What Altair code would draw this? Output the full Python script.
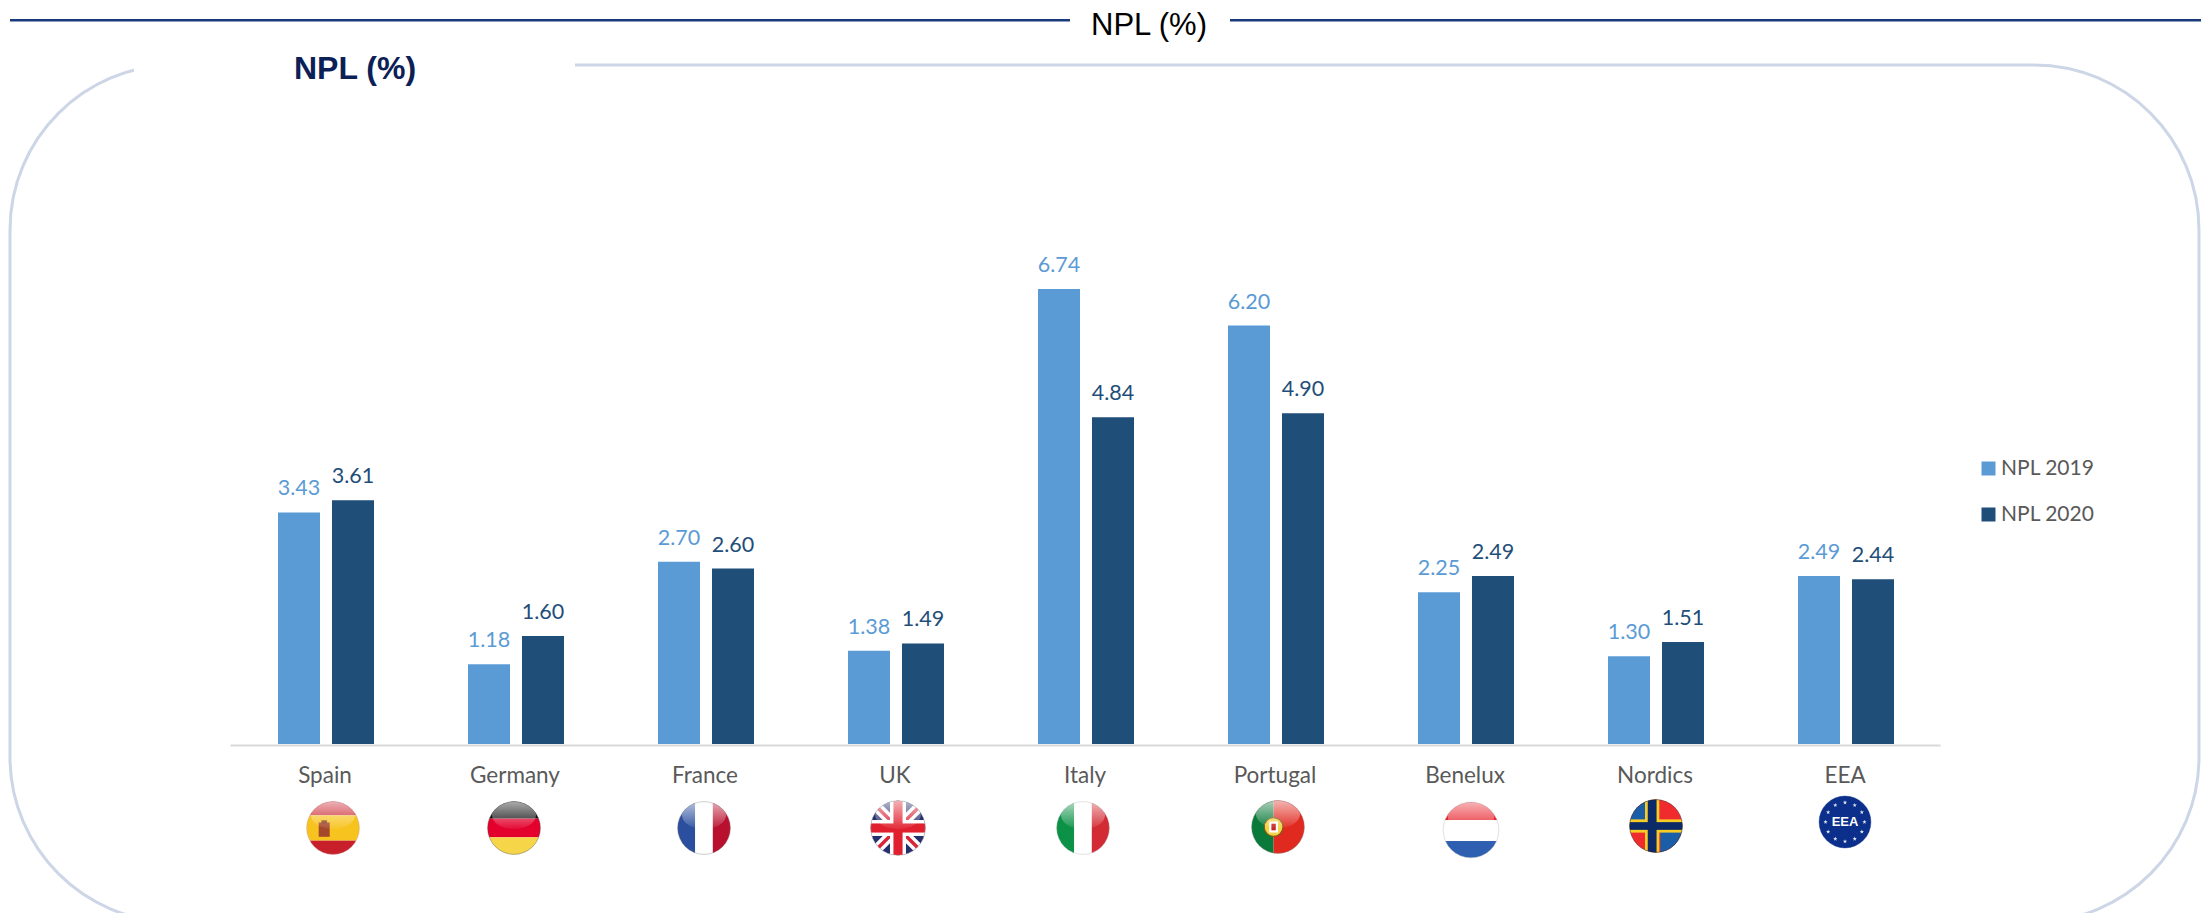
import math
from urllib.parse import quote
import altair as alt

categories = ["Spain", "Germany", "France", "UK", "Italy", "Portugal", "Benelux", "Nordics", "EEA"]
npl_2019 = [3.43, 1.18, 2.70, 1.38, 6.74, 6.20, 2.25, 1.30, 2.49]
npl_2020 = [3.61, 1.60, 2.60, 1.49, 4.84, 4.90, 2.49, 1.51, 2.44]
series = ["NPL 2019", "NPL 2020"]
colors = ["#5B9BD5", "#1F4E79"]
FONT = "Lato"
GREY = "#595959"

rows = [{"cat": c, "series": s, "value": v}
        for s, vals in zip(series, (npl_2019, npl_2020))
        for c, v in zip(categories, vals)]


def flag(body, gloss=True, rim="#555555"):
    g = ('<defs><clipPath id="c"><circle cx="50" cy="50" r="48"/></clipPath>'
         '<linearGradient id="g" x1="0" y1="0" x2="0" y2="1">'
         '<stop offset="0" stop-color="#fff" stop-opacity=".65"/>'
         '<stop offset="1" stop-color="#fff" stop-opacity=".05"/></linearGradient></defs>')
    shine = '<ellipse cx="50" cy="27" rx="40" ry="25" fill="url(#g)"/>' if gloss else ""
    s = (f'<svg xmlns="http://www.w3.org/2000/svg" width="100" height="100" viewBox="0 0 100 100">{g}'
         f'<g clip-path="url(#c)">{body}{shine}</g>'
         f'<circle cx="50" cy="50" r="48" fill="none" stroke="{rim}" stroke-opacity=".5" stroke-width="1.5"/></svg>')
    return "data:image/svg+xml," + quote(s)


def r(x, y, w, h, c):
    return f'<rect x="{x}" y="{y}" width="{w}" height="{h}" fill="{c}"/>'


stars = ""
for i in range(12):
    a = math.radians(30 * i)
    cx, cy = 50 + 36 * math.cos(a), 50 + 36 * math.sin(a)
    pts = " ".join(
        f"{cx + (4.2 if k % 2 == 0 else 1.7) * math.sin(math.radians(36 * k)):.1f},"
        f"{cy - (4.2 if k % 2 == 0 else 1.7) * math.cos(math.radians(36 * k)):.1f}"
        for k in range(10))
    stars += f'<polygon points="{pts}" fill="#dfe6f5"/>'

flags = {
    "Spain": (flag(r(0, 0, 100, 27, "#c8202a") + r(0, 27, 100, 46, "#f7c31e") + r(0, 73, 100, 27, "#c8202a")
                   + r(24, 40, 20, 26, "#a5472a") + r(29, 36, 10, 6, "#8a3d20"), rim="#cc9999"), 55, 8, 0),
    "Germany": (flag(r(0, 0, 100, 33, "#111111") + r(0, 33, 100, 34, "#e3002d") + r(0, 67, 100, 33, "#f6d648")), 55, -1, 0),
    "France": (flag(r(0, 0, 34, 100, "#2b4f9e") + r(34, 0, 32, 100, "#ffffff") + r(66, 0, 34, 100, "#b8102e"), rim="#888888"), 55, -1, 0),
    "UK": (flag(r(0, 0, 100, 100, "#27306e")
                + '<path d="M0 0L100 100M100 0L0 100" stroke="#fff" stroke-width="18"/>'
                + '<path d="M0 0L100 100M100 0L0 100" stroke="#d9243a" stroke-width="6"/>'
                + r(36, 0, 28, 100, "#fff") + r(0, 36, 100, 28, "#fff")
                + r(42, 0, 16, 100, "#e1202f") + r(0, 42, 100, 16, "#e1202f"), rim="#aaaaaa"), 57, 3, 0),
    "Italy": (flag(r(0, 0, 34, 100, "#0c9246") + r(34, 0, 32, 100, "#ffffff") + r(66, 0, 34, 100, "#d32b34"), rim="#bbbbbb"), 55, -2, 0),
    "Portugal": (flag(r(0, 0, 42, 100, "#0a7a3a") + r(42, 0, 58, 100, "#e02a20")
                      + '<circle cx="42" cy="50" r="17" fill="#f2d34a" stroke="#7a5a10" stroke-width="2"/>'
                      + r(34, 40, 16, 20, "#fff") + r(38, 44, 8, 12, "#c5281f"), rim="#888888"), 55, 3, -1),
    "Benelux": (flag(r(0, 0, 100, 33, "#e8242d") + r(0, 33, 100, 36, "#ffffff") + r(0, 69, 100, 31, "#2f5fb0"), rim="#bbbbbb"), 58, 6, 2),
    "Nordics": (flag(r(0, 0, 100, 100, "#ef2b2d") + r(0, 0, 42, 45, "#1b5ea8") + r(58, 55, 42, 45, "#1b5ea8")
                     + r(30, 0, 26, 100, "#f7cc27") + r(0, 38, 100, 24, "#f7cc27")
                     + r(35, 0, 16, 100, "#0b2a66") + r(0, 43, 100, 14, "#0b2a66"), gloss=False, rim="#222222"), 55, 1, -2),
    "EEA": (flag(r(0, 0, 100, 100, "#0b2f8a") + stars, gloss=False, rim="#0b2f8a"), 54, 0, -6),
}
FLAG_Y = 820

x_enc = alt.X("cat:N", sort=categories,
              scale=alt.Scale(domain=categories, range=[222, 1932], paddingInner=0, paddingOuter=0),
              axis=alt.Axis(title=None, labelAngle=0, labelFont=FONT, labelFontSize=22.5, labelColor=GREY,
                            labelPadding=19, ticks=False, grid=False, domainColor="#D9D9D9", domainWidth=2.2))
off_enc = alt.XOffset("series:N", sort=series,
                      scale=alt.Scale(domain=series, range=[48, 144], paddingInner=0.222, paddingOuter=0))
y_enc = alt.Y("value:Q", axis=None, scale=alt.Scale(domain=[0, 7], range=[736, 263.5]))
color_enc = alt.Color("series:N", sort=series,
                      scale=alt.Scale(domain=series, range=colors),
                      legend=alt.Legend(orient="none", legendX=1970, legendY=450, title=None,
                                        symbolType="square", symbolSize=196, symbolStrokeWidth=0,
                                        labelFont=FONT, labelFontSize=21, labelColor=GREY,
                                        labelOffset=2, rowPadding=24, padding=0))


def box(x, x2, y, y2, **mark):
    return alt.Chart(alt.Data(values=[{}])).mark_rect(**mark).encode(
        x=alt.value(x), x2=alt.value(x2), y=alt.value(y), y2=alt.value(y2))


def label(text, x, y, size, color, **mark):
    return alt.Chart(alt.Data(values=[{}])).mark_text(
        text=text, fontSize=size, color=color, font="Liberation Sans", **mark
    ).encode(x=alt.value(x), y=alt.value(y))


frame = box(2, 2191, 57, 914, cornerRadius=165, fill="#ffffff", fillOpacity=0, stroke="#CDD6E6", strokeWidth=3)
gap = box(126, 567, 50, 64, fill="#ffffff")
rule_l = box(2, 1062, 11, 13.4, fill="#1B3A7C")
rule_r = box(1222, 2193, 11, 13.4, fill="#1B3A7C")
title_top = label("NPL (%)", 1141, 27.3, 31, "#000000", align="center", baseline="alphabetic")
title_box = label("NPL (%)", 286, 71, 32, "#0B2056", align="left", baseline="alphabetic", fontWeight="bold")

base = alt.Chart(alt.Data(values=rows))
bars = base.mark_bar().encode(x=x_enc, xOffset=off_enc, y=y_enc, color=color_enc)
texts = base.mark_text(font=FONT, fontSize=21.5, baseline="bottom", dy=-12).encode(
    x=x_enc, xOffset=off_enc, y=y_enc,
    text=alt.Text("value:Q", format=".2f"),
    color=alt.Color("series:N", sort=series, scale=alt.Scale(domain=series, range=colors), legend=None))

flag_layers = []
for c, (uri, size, dx, dy) in flags.items():
    flag_layers.append(
        alt.Chart(alt.Data(values=[{"cat": c}]))
        .mark_image(width=size, height=size, xOffset=dx, yOffset=dy)
        .encode(x=alt.X("cat:N", sort=categories), y=alt.value(FLAG_Y), url=alt.value(uri))
    )
eea_text = alt.Chart(alt.Data(values=[{"cat": "EEA"}])).mark_text(
    text="EEA", font="Liberation Sans", fontSize=13, fontWeight="bold", color="#ffffff", yOffset=-6
).encode(x=alt.X("cat:N", sort=categories), y=alt.value(FLAG_Y))

chart = alt.layer(frame, gap, rule_l, rule_r, title_top, title_box, bars, texts, *flag_layers, eea_text).properties(
    width=2193, height=737,
    padding={"left": 0, "top": 0, "right": 0, "bottom": 168},
    autosize=alt.AutoSizeParams(type="none"),
).configure_view(stroke=None).resolve_scale(color="independent")

chart.save("out.html", embed_options={"renderer": "svg", "actions": False})
